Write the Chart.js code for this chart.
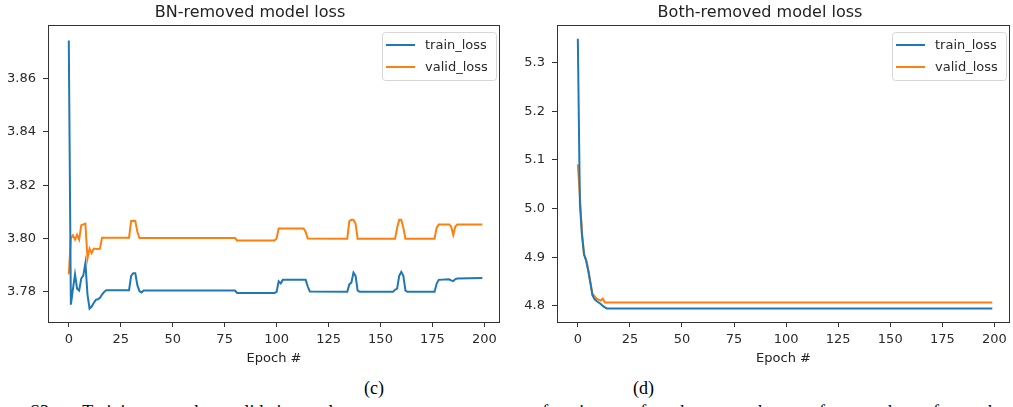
<!DOCTYPE html>
<html>
<head>
<meta charset="utf-8">
<script src="https://cdn.jsdelivr.net/npm/chart.js@4.4.0/dist/chart.umd.min.js"></script>
<style>
  body { margin: 0; background: #fff; width: 1013px; height: 407px; overflow: hidden; position: relative; }
  canvas { position: absolute; top: 0; }
  #bnChart { left: 0; }
  #bothChart { left: 510px; }
  .cap { position: absolute; font-family: "Liberation Serif", "Times New Roman", serif; font-size: 18px; line-height: 18px; color: #000; white-space: nowrap; }
</style>
</head>
<body>
<canvas id="bnChart" width="510" height="375"></canvas>
<canvas id="bothChart" width="503" height="375"></canvas>
<div class="cap" style="left:364px; top:379px;">(c)</div>
<div class="cap" style="left:633px; top:379px;">(d)</div>
<div class="cap" style="left:30px; top:403px; width:975px; text-align:justify; text-align-last:justify;">S3. Training and validation loss curves as a function of the number of epochs for the</div>

<script>
// Données (époques / valeurs aux points de cassure)
const seriesLabels = ['train_loss', 'valid_loss'];
const seriesColors = ['#1f77b4', '#ff7f0e'];

const xTicks = [0, 25, 50, 75, 100, 125, 150, 175, 200];

// (c) BN-removed
const bnTrainEpochs = [0, 1, 2, 3, 4, 5, 6, 7, 8, 9, 10, 11, 12, 13, 14, 15, 16, 17, 18, 29, 30, 31, 32, 33, 34, 35, 36, 80, 81, 99, 100, 101, 102, 103, 104, 114, 115, 116, 134, 135, 136, 137, 138, 139, 140, 156, 157, 158, 159, 160, 161, 162, 163, 176, 177, 178, 183, 184, 185, 186, 187, 199];
const bnTrainLoss = [3.8743, 3.7752, 3.7810, 3.7866, 3.7812, 3.7805, 3.7850, 3.7862, 3.7908, 3.7790, 3.7737, 3.7745, 3.7758, 3.7770, 3.7772, 3.7778, 3.7790, 3.7800, 3.7806, 3.7806, 3.7860, 3.7870, 3.7870, 3.7825, 3.7803, 3.7798, 3.7805, 3.7805, 3.7796, 3.7796, 3.7800, 3.7840, 3.7832, 3.7845, 3.7845, 3.7845, 3.7820, 3.7801, 3.7800, 3.7828, 3.7835, 3.7872, 3.7860, 3.7805, 3.7800, 3.7800, 3.7808, 3.7812, 3.7860, 3.7875, 3.7860, 3.7805, 3.7800, 3.7800, 3.7830, 3.7845, 3.7847, 3.7843, 3.7840, 3.7848, 3.7850, 3.7852];
const bnValidEpochs = [0, 1, 2, 3, 4, 5, 6, 7, 8, 9, 10, 11, 12, 13, 14, 15, 16, 29, 30, 31, 32, 33, 34, 80, 81, 99, 100, 101, 113, 114, 115, 134, 135, 136, 137, 138, 139, 157, 158, 159, 160, 161, 162, 176, 177, 178, 183, 184, 185, 186, 187, 199];
const bnValidLoss = [3.7866, 3.8000, 3.8012, 3.7996, 3.8014, 3.7996, 3.8050, 3.8053, 3.8056, 3.7925, 3.7962, 3.7945, 3.7962, 3.7962, 3.7961, 3.7962, 3.8003, 3.8003, 3.8066, 3.8067, 3.8066, 3.8025, 3.8002, 3.8002, 3.7993, 3.7993, 3.8000, 3.8038, 3.8038, 3.8025, 3.8000, 3.7999, 3.8065, 3.8070, 3.8070, 3.8055, 3.7999, 3.7999, 3.8040, 3.8070, 3.8070, 3.8040, 3.7999, 3.7999, 3.8040, 3.8053, 3.8053, 3.8045, 3.8013, 3.8045, 3.8053, 3.8053];
const bnYTicks = [3.78, 3.80, 3.82, 3.84, 3.86];

// (d) Both-removed
const bothEpochs = [0, 1, 2, 3, 4, 5, 6, 7, 8, 9, 10, 11, 12, 13, 14, 199];
const bothTrainLoss = [5.349, 5.010, 4.945, 4.905, 4.893, 4.872, 4.848, 4.822, 4.814, 4.810, 4.807, 4.804, 4.800, 4.797, 4.795, 4.795];
const bothValidLoss = [5.091, 5.025, 4.950, 4.906, 4.895, 4.875, 4.850, 4.825, 4.820, 4.815, 4.813, 4.811, 4.815, 4.807, 4.807, 4.807];
const bothYTicks = [4.8, 4.9, 5.0, 5.1, 5.2, 5.3];

Chart.defaults.font.family = '"DejaVu Sans", sans-serif';
Chart.defaults.font.size = 13;
Chart.defaults.color = '#2a2a2a';

// Cadre complet autour de la zone de tracé (style matplotlib)
const frame = {
    id: 'frame',
    afterDatasetsDraw(chart) {
        const { ctx, chartArea: a } = chart;
        ctx.save();
        ctx.strokeStyle = '#333';
        ctx.lineWidth = 1;
        ctx.strokeRect(Math.round(a.left) + 0.5, Math.round(a.top) + 0.5,
            Math.round(a.right - a.left) - 1, Math.round(a.bottom - a.top));
        ctx.restore();
    }
};

// Légende encadrée en haut à droite, dans la zone de tracé
const boxLegend = {
    id: 'boxLegend',
    afterDraw(chart) {
        const { ctx, chartArea: a } = chart;
        const w = 114, h = 48;
        const x = Math.round(a.right) - 4 - w, y = Math.round(a.top) + 7;
        ctx.save();
        ctx.fillStyle = 'rgba(255,255,255,0.85)';
        ctx.strokeStyle = '#d6d6d6';
        ctx.lineWidth = 1;
        ctx.beginPath();
        ctx.roundRect(x + 0.5, y + 0.5, w, h, 3);
        ctx.fill();
        ctx.stroke();
        ctx.font = '13px "DejaVu Sans"';
        ctx.textBaseline = 'middle';
        chart.data.datasets.forEach((ds, i) => {
            const ly = y + 13 + i * 22;
            ctx.strokeStyle = ds.borderColor;
            ctx.lineWidth = 2;
            ctx.beginPath();
            ctx.moveTo(x + 4, ly);
            ctx.lineTo(x + 33, ly);
            ctx.stroke();
            ctx.fillStyle = '#2a2a2a';
            ctx.fillText(ds.label, x + 43, ly + 1);
        });
        ctx.restore();
    }
};

function toPoints(xs, ys) {
    return xs.map((x, i) => ({ x: x, y: ys[i] }));
}

/**
 * Crée un graphique de perte.
 */
function lossChart(canvas, title, train, valid, yTicks, yMin, yMax, digits, yWidth, padRight) {
    return new Chart(canvas.getContext('2d'), {
        type: 'line',
        data: {
            datasets: [train, valid].map((d, i) => ({
                label: seriesLabels[i],
                data: d,
                borderColor: seriesColors[i],
                borderWidth: 2,
                pointRadius: 0,
                tension: 0,
                fill: false
            }))
        },
        options: {
            responsive: false,
            animation: false,
            layout: { padding: { left: 0, right: padRight, top: 0, bottom: 0 } },
            plugins: {
                legend: { display: false },
                tooltip: { enabled: false },
                title: {
                    display: true,
                    text: title,
                    color: '#222',
                    font: { size: 16, weight: 'normal' },
                    padding: { top: 3, bottom: 3 }
                }
            },
            scales: {
                x: {
                    type: 'linear',
                    min: -10,
                    max: 207.5,
                    afterBuildTicks: s => { s.ticks = xTicks.map(v => ({ value: v })); },
                    afterFit: s => { s.height = 53; },
                    border: { display: false },
                    grid: { drawOnChartArea: false, drawTicks: true, tickLength: 5, color: '#333' },
                    ticks: { padding: 5, maxRotation: 0 },
                    title: { display: true, text: 'Epoch #', color: '#222', padding: { top: 2, bottom: 9 } }
                },
                y: {
                    min: yMin,
                    max: yMax,
                    afterBuildTicks: s => { s.ticks = yTicks.map(v => ({ value: v })); },
                    afterFit: s => { s.width = yWidth; },
                    border: { display: false },
                    grid: { drawOnChartArea: false, drawTicks: true, tickLength: 5, color: '#333' },
                    ticks: { padding: 7, callback: v => v.toFixed(digits) }
                }
            }
        },
        plugins: [frame, boxLegend]
    });
}

lossChart(document.getElementById('bnChart'), 'BN-removed model loss',
    toPoints(bnTrainEpochs, bnTrainLoss), toPoints(bnValidEpochs, bnValidLoss),
    bnYTicks, 3.7687, 3.8800, 2, 48, 10);

lossChart(document.getElementById('bothChart'), 'Both-removed model loss',
    toPoints(bothEpochs, bothTrainLoss), toPoints(bothEpochs, bothValidLoss),
    bothYTicks, 4.767, 5.377, 1, 47, 3);
</script>
</body>
</html>
